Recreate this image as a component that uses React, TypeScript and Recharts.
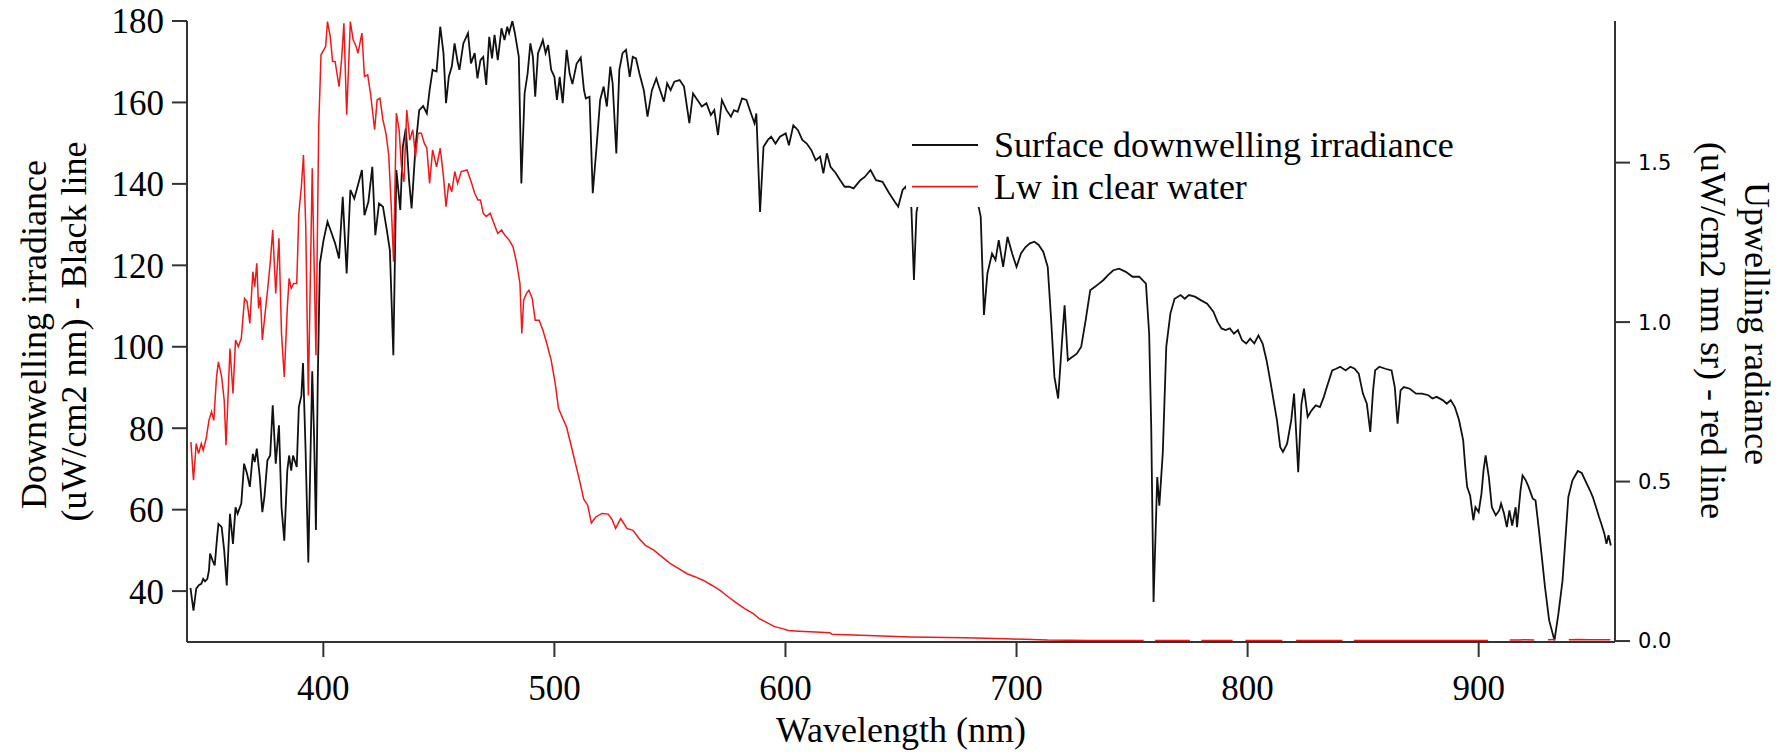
import { LineChart, Line, XAxis, YAxis, Legend } from 'recharts'

// Surface downwelling irradiance (black, left axis) - [wavelength nm, uW/cm2 nm]
const irradiance: Array<[number, number]> = [
  [342.5, 40.8], [343.8, 35.2], [345, 40.6], [346.2, 41.5], [347.2, 41.8], [348, 43], [348.8, 42.4], [349.8, 43],
  [350.5, 45.1], [351, 49.2], [352.1, 47.5], [353, 46.3], [354, 53], [354.6, 56.5], [356, 55.7], [357.1, 50],
  [358.2, 41.4], [359.6, 59], [360.9, 51.6], [362, 60.6], [362.9, 59], [364.5, 61.5], [365.7, 71.3], [367, 68.8],
  [368.2, 65.6], [369.5, 73.7], [370.3, 71.7], [371.2, 75], [372.5, 68], [373.6, 59.4], [374.5, 63.1], [375.8, 72.1],
  [377, 73.3], [378.1, 85.6], [379.4, 71.3], [380.8, 80.7], [381.9, 60.6], [383.1, 52.4], [384.4, 69.6], [385.2, 73.3],
  [386.1, 69.6], [386.9, 73.3], [388.5, 70.5], [389.4, 85.2], [390.5, 88], [391.2, 96], [392.3, 75], [393.5, 47],
  [394.5, 75], [395.2, 94], [396, 78], [396.8, 55], [397.6, 92], [398.5, 120.4], [400.1, 126.2], [401.8, 130.7],
  [403.4, 128.2], [405.1, 125.4], [406.8, 121.7], [408.4, 136.8], [410.1, 118], [411.7, 138.5], [413.4, 136.4], [415, 139.7],
  [416.7, 143.4], [417.8, 132.3], [419.5, 135.6], [421.2, 144.2], [422.5, 127.4], [424.1, 135.2], [425.8, 134.4], [427.5, 128.6],
  [428.8, 123.7], [430.3, 97.9], [431.6, 143.4], [433.3, 133.6], [434.4, 149.1], [435.7, 153.6], [437.1, 140.9], [438.2, 134],
  [439.9, 149.1], [441.5, 158.1], [443.2, 159.1], [444.8, 157.3], [446, 163], [447.3, 168], [449, 167.6], [450.6, 178.6],
  [452, 172.1], [453.1, 159.8], [454.3, 166.3], [455.6, 168.8], [456.8, 174.5], [458.1, 170], [458.9, 168], [460.6, 174.5],
  [462.6, 177], [463.9, 169.6], [465.5, 172.1], [466.7, 165.9], [468, 170.4], [469.2, 171.2], [470.5, 164.3], [471.8, 176.1],
  [473, 170.8], [474.1, 176.6], [475.5, 170.4], [477.1, 178.2], [478.4, 175.3], [479.6, 178.6], [480.4, 177], [481.8, 180],
  [482.9, 177], [484.6, 171.2], [485.7, 140.1], [487.1, 162.2], [488.4, 167.1], [489.6, 174.5], [490.7, 171.2], [491.7, 161.4],
  [492.9, 172.1], [494, 173.7], [495, 175.3], [496.2, 172.1], [497.3, 174.1], [498.6, 168], [500, 166.3], [501.1, 160.6],
  [502.3, 166.3], [503.6, 159.8], [505.3, 172.9], [506.6, 167.1], [507.8, 164.5], [509.6, 169.5], [511.4, 171], [512.8, 163],
  [513.6, 161], [515.2, 161.4], [516.6, 137.7], [518.3, 149.5], [519.8, 160.6], [521.3, 163.9], [522.7, 159], [524.2, 168.8],
  [525.2, 164.7], [526.8, 147.5], [528.1, 168], [529.5, 172.1], [531, 172.9], [532.6, 166.3], [533.9, 171.2], [535.3, 170.8],
  [536.8, 167.1], [538.7, 163], [540.3, 156.5], [542.2, 163], [544.1, 165.9], [545.5, 163.4], [547.4, 160.2], [548.8, 164.7],
  [550.3, 163], [551.9, 165.1], [554.2, 165.5], [556.1, 163.9], [558.4, 154.9], [560, 162.2], [561.9, 160.6], [563.8, 159],
  [565.8, 159.8], [567.7, 156.9], [569.2, 158.1], [570.8, 152], [572.5, 160.6], [574.5, 158.1], [576.4, 156.5], [577.7, 158.1],
  [579.3, 157.7], [581.2, 161], [583.1, 160.6], [585.1, 157.3], [586.6, 154.9], [587.4, 157.3], [589, 133.1], [590.5, 149.1],
  [592.4, 150.8], [593.8, 151.6], [595.7, 149.9], [597.6, 151.6], [600.1, 152.4], [601.5, 149.5], [603.4, 154.4], [605.4, 153.2],
  [607.3, 150.8], [609.2, 149.9], [611.2, 148.3], [613.1, 145.8], [615, 146.7], [616.4, 142.6], [617.9, 147.5], [619.5, 144.2],
  [621.8, 142.6], [623.7, 140.9], [625.6, 139.3], [627.6, 139.3], [629.5, 138.9], [632.4, 140.9], [634.3, 141.7], [636.8, 143.4],
  [639.2, 140.9], [642, 140.5], [644.9, 137.7], [647.3, 135.6], [648.8, 134.4], [650.7, 138.5], [652, 139.3], [653.5, 137],
  [654.5, 134], [655.6, 116.4], [656.7, 133], [658, 137], [662, 138], [666, 137], [670, 136.5], [674, 136],
  [678, 135.5], [682, 135], [683.6, 134.4], [684.5, 131.9], [685.9, 107.8], [687.4, 118], [689.4, 122.9], [690.9, 121.3],
  [692.3, 126.2], [694.2, 119.6], [696.1, 127], [698.1, 122.9], [700, 119.6], [701.9, 122.9], [703.9, 124.5], [705.8, 125.4],
  [707.7, 125.8], [709.6, 125], [711.6, 123.3], [713.5, 119.6], [714.9, 107.3], [716.4, 92.6], [718, 87.3], [719.9, 103.2],
  [720.8, 110.2], [722.2, 96.7], [724.1, 97.5], [726.1, 98.3], [728, 100], [729.9, 106.5], [731.9, 113.9], [733.8, 114.7],
  [735.7, 115.5], [737.6, 116.4], [739.6, 117.6], [741.9, 118.8], [744.4, 119.2], [747.3, 118.4], [750.2, 117.2], [753.1, 117.2],
  [756, 115.5], [757.4, 103.2], [758.3, 80], [759.3, 37.3], [760.9, 68], [761.8, 61], [763.3, 74], [764.8, 100],
  [766.6, 108.2], [768.4, 111.8], [771, 112.7], [772.8, 111.8], [774.6, 112.7], [777.2, 112.3], [779.9, 111.4], [782.5, 110.6],
  [785.2, 108.6], [787, 106.1], [788.7, 104.5], [790.5, 104.1], [792.3, 104.5], [794.1, 103.2], [795.8, 104.1], [797.6, 101.6],
  [799.4, 100.8], [801.1, 102], [802.9, 100.8], [804.7, 102.8], [806.5, 100.8], [808.2, 96.7], [810, 91], [810.9, 88],
  [812.7, 82], [814.1, 75.4], [815.3, 74.2], [817.1, 76.2], [818.9, 82], [820.1, 88.5], [821.2, 77], [821.9, 69.2],
  [823.3, 86], [824.4, 89.7], [826, 82.8], [827.7, 84.4], [829.5, 85.6], [831.3, 85.2], [833, 87.7], [834.3, 90.1],
  [836.6, 94.2], [838.3, 94.6], [840.1, 95.1], [842.4, 94.2], [844.5, 95.1], [846.3, 94.6], [848.1, 93.4], [849.9, 88.5],
  [851.6, 86], [853.1, 79.1], [854.3, 89.3], [855.2, 94.2], [857, 95.1], [859.6, 94.6], [862.3, 94.2], [863.7, 90.1],
  [864.9, 81.1], [866.2, 89.3], [867.6, 90.1], [870.2, 89.7], [872.9, 88.5], [875.5, 88.5], [878.2, 88.1], [880, 87.3],
  [881.8, 87.7], [884.4, 86.9], [886.2, 86], [887.9, 86.9], [889.7, 85.2], [891.5, 82], [893.3, 77], [894.2, 70.5],
  [895, 65.6], [896.3, 63.5], [897.7, 57.4], [898.6, 60.6], [900, 59.4], [901.2, 63.9], [902.1, 69.6], [903, 73.3],
  [904.4, 68], [905.7, 60.6], [907.4, 58.6], [908.9, 59.8], [909.7, 61.5], [911, 59], [912.2, 55.7], [913.3, 59.8],
  [914.5, 56.1], [916, 60.6], [916.6, 55.7], [918.1, 64.7], [919, 68.4], [920.4, 67.2], [921.6, 65.6], [923.4, 62.7],
  [924.6, 62.3], [926.1, 54.9], [927.5, 47.5], [928.7, 41], [930.5, 32.8], [932.8, 27.9], [934.5, 34.4], [936.3, 42.6],
  [937.6, 53.3], [938.8, 63.1], [940.6, 67.2], [942.9, 69.5], [944.6, 69], [946.4, 66.8], [948.2, 64.7], [949.4, 63.1],
  [950.8, 60.6], [952.1, 58.2], [953.1, 56.5], [954.4, 54.1], [955.3, 51.6], [956.2, 53.7], [957.2, 51.2],
]

// Lw in clear water (red, right axis) - [wavelength nm, uW/cm2 nm sr]; null = gap in the trace
const lwRadiance: Array<[number, number | null]> = [
  [342.7, 0.624], [343.8, 0.504], [345, 0.619], [346, 0.588], [347.2, 0.619], [348, 0.598], [349.3, 0.635], [350.5, 0.692],
  [351.6, 0.719], [352.6, 0.692], [353.8, 0.83], [354.6, 0.875], [356, 0.828], [357.1, 0.755], [357.9, 0.614], [359.6, 0.917],
  [360.9, 0.776], [362, 0.944], [363.2, 0.923], [364.5, 0.949], [365.9, 1.074], [367, 1.064], [368.2, 0.996], [369.5, 1.158],
  [370.3, 1.111], [371.2, 1.184], [372, 1.043], [372.8, 1.079], [373.6, 0.944], [374.5, 1.006], [375.8, 1.095], [377, 1.184],
  [378.1, 1.289], [379.4, 1.09], [380.8, 1.263], [381.9, 0.964], [383.1, 0.828], [384.4, 1.043], [385.2, 1.137], [386.1, 1.106],
  [387.2, 1.121], [388.5, 1.121], [389.4, 1.341], [390.5, 1.425], [391.4, 1.524], [392.4, 1.299], [393.5, 0.77], [395.2, 1.482],
  [396.8, 0.896], [398, 1.613], [399, 1.838], [401, 1.864], [401.8, 1.942], [403, 1.895], [404, 1.817], [405.1, 1.817],
  [406.8, 1.738], [407.9, 1.822], [408.9, 1.937], [410.1, 1.65], [411.7, 1.942], [412.9, 1.885], [414.2, 1.864], [415, 1.843],
  [416.7, 1.906], [417.8, 1.77], [419.2, 1.775], [420.5, 1.712], [422.2, 1.603], [423.3, 1.697], [424.5, 1.702], [425.8, 1.634],
  [427.1, 1.592], [428.3, 1.524], [429.4, 1.362], [430.4, 1.189], [431.6, 1.655], [432.8, 1.603], [433.8, 1.487], [434.9, 1.44],
  [436.1, 1.665], [437.4, 1.571], [438.7, 1.603], [439.9, 1.519], [441, 1.592], [442.4, 1.592], [443.7, 1.561], [444.8, 1.545],
  [446, 1.435], [447.3, 1.54], [449, 1.487], [450.6, 1.545], [452, 1.456], [453.1, 1.362], [454.3, 1.435], [455.6, 1.409],
  [456.9, 1.472], [458.1, 1.435], [459.7, 1.472], [462.2, 1.477], [464.2, 1.435], [465.5, 1.404], [466.9, 1.383], [468, 1.383],
  [469.2, 1.341], [470.5, 1.331], [472.2, 1.341], [473.8, 1.31], [475.5, 1.278], [477.1, 1.289], [478.5, 1.273], [480.4, 1.257],
  [482.1, 1.236], [483.7, 1.184], [485.1, 1.121], [485.9, 0.964], [486.7, 1.069], [487.9, 1.09], [489, 1.1], [490.4, 1.074],
  [491.7, 1.006], [493.4, 1.006], [495, 0.975], [496.7, 0.933], [498.6, 0.881], [500.3, 0.81], [501.8, 0.729], [503.5, 0.7],
  [505.3, 0.67], [507, 0.62], [509, 0.56], [511, 0.5], [512.7, 0.445], [514.4, 0.426], [516, 0.37], [517.9, 0.389],
  [520.6, 0.4], [523.3, 0.398], [525.1, 0.379], [526.5, 0.353], [528.7, 0.384], [531.4, 0.353], [534, 0.347], [536.7, 0.321],
  [539.4, 0.3], [543, 0.285], [546.6, 0.264], [550.2, 0.243], [553.8, 0.227], [557.4, 0.211], [561, 0.201], [564.5, 0.19],
  [568.1, 0.175], [571.7, 0.159], [575.3, 0.138], [578.9, 0.119], [582.5, 0.101], [586.1, 0.086], [588.7, 0.07], [591.4, 0.06],
  [595, 0.046], [598.6, 0.039], [601.3, 0.033], [605.8, 0.031], [613, 0.028], [619.2, 0.026], [620.1, 0.021], [632.7, 0.018],
  [654.2, 0.013], [677.5, 0.01], [695.5, 0.007], [713.4, 0.003], [731.3, 0.002], [735, 0.002], [740, 0.002], [745, 0.002],
  [750, 0.002], [755, 0.002], [757.5, null], [760, 0.002], [764, 0.002], [768, 0.002], [772, 0.002], [775, 0.002],
  [777.2, null], [780, 0.002], [785, 0.002], [790, 0.002], [793.5, 0.002], [795.9, null], [799, 0.002], [805, 0.002],
  [810, 0.002], [815, 0.002], [818.3, null], [821, 0.002], [826, 0.002], [832, 0.002], [838, 0.002], [841, 0.002],
  [842.8, null], [846, 0.002], [852, 0.002], [858, 0.002], [864, 0.002], [870, 0.002], [876, 0.002], [882, 0.002],
  [888, 0.002], [894, 0.002], [900, 0.002], [904, 0.002], [906.5, null], [910, null], [913.4, 0.003], [917, 0.003],
  [920, 0.004], [924, 0.003], [927.2, null], [930, 0.004], [933, 0.005], [935.9, null], [939, 0.004], [943, 0.005],
  [948, 0.004], [953, 0.004], [957, 0.004],
]

const wavelengthTicks = [400, 500, 600, 700, 800, 900]
const irradianceTicks = [40, 60, 80, 100, 120, 140, 160, 180]
const radianceTicks = [0, 0.5, 1, 1.5]
const legendOrder = ['Surface downwelling irradiance', 'Lw in clear water']

const irrData = irradiance.map(([nm, v]) => ({ nm, irr: v }))
const lwData = lwRadiance.map(([nm, v]) => ({ nm, lw: v }))

const SERIF = 'Liberation Serif, Times New Roman, serif'
const titleStyle = { fontFamily: SERIF, fontSize: 36, fill: '#000' }

function LeftTitle(props: any) {
  const vb = props.viewBox || { x: 0, y: 21, width: 187, height: 621 }
  const cy = vb.y + vb.height / 2
  return (
    <g>
      <text transform={`translate(${vb.x + 34}, ${cy + 3}) rotate(-90)`} textAnchor="middle" dominantBaseline="central" style={titleStyle}>
        Downwelling irradiance
      </text>
      <text transform={`translate(${vb.x + 74}, ${cy}) rotate(-90)`} textAnchor="middle" dominantBaseline="central" style={titleStyle}>
        (uW/cm2 nm) - Black line
      </text>
    </g>
  )
}

function RightTitle(props: any) {
  const vb = props.viewBox || { x: 1615, y: 21, width: 177, height: 621 }
  const cy = vb.y + vb.height / 2
  return (
    <g>
      <text transform={`translate(${vb.x + 142}, ${cy - 8}) rotate(90)`} textAnchor="middle" dominantBaseline="central" style={titleStyle}>
        Upwelling radiance
      </text>
      <text transform={`translate(${vb.x + 98}, ${cy - 1}) rotate(90)`} textAnchor="middle" dominantBaseline="central" style={titleStyle}>
        (uW/cm2 nm sr) - red line
      </text>
    </g>
  )
}

function BottomTitle(props: any) {
  const vb = props.viewBox || { x: 187, y: 642, width: 1428, height: 111 }
  return (
    <text x={vb.x + vb.width / 2} y={vb.y + 100} textAnchor="middle" style={titleStyle}>
      Wavelength (nm)
    </text>
  )
}

// legend box with white fill: it hides the trace behind it, as in the original
function LegendBox({ payload }: any) {
  const items = [...(payload || [])].sort(
    (a: any, b: any) => legendOrder.indexOf(a.value) - legendOrder.indexOf(b.value)
  )
  return (
    <svg width={560} height={89} style={{ display: 'block', background: '#fff' }}>
      {items.map((p: any, i: number) => {
        const y = 27 + i * 41.7
        return (
          <g key={p.value}>
            <line x1={6} x2={72} y1={y} y2={y} stroke={p.color} strokeWidth={1.8} />
            <text x={88} y={y + 12} style={titleStyle}>{p.value}</text>
          </g>
        )
      })}
    </svg>
  )
}

export default function App() {
  const axisLine = { stroke: '#333', strokeWidth: 2 }
  return (
    <div style={{ position: 'absolute', left: 0, top: 0, width: 1792, height: 753, background: '#fff' }}>
      <LineChart width={1792} height={753} margin={{ top: 21, right: 0, bottom: 0, left: 0 }}>
        <XAxis
          dataKey="nm"
          type="number"
          domain={[341, 959]}
          allowDataOverflow
          ticks={wavelengthTicks}
          height={111}
          tickSize={15}
          tickMargin={18}
          axisLine={axisLine}
          tickLine={axisLine}
          tick={{ fill: '#000', fontSize: 35, fontFamily: SERIF }}
          label={{ content: BottomTitle }}
        />
        <YAxis
          yAxisId="left"
          orientation="left"
          domain={[27.5, 180]}
          allowDataOverflow
          ticks={irradianceTicks}
          width={187}
          tickSize={15}
          tickMargin={8}
          axisLine={axisLine}
          tickLine={axisLine}
          tick={{ fill: '#000', fontSize: 35, fontFamily: SERIF }}
          label={{ content: LeftTitle }}
        />
        <YAxis
          yAxisId="right"
          orientation="right"
          domain={[-0.003, 1.944]}
          allowDataOverflow
          ticks={radianceTicks}
          tickFormatter={(v: number) => v.toFixed(1)}
          width={177}
          tickSize={15}
          tickMargin={8}
          axisLine={axisLine}
          tickLine={axisLine}
          tick={{ fill: '#000', fontSize: 21, fontFamily: 'DejaVu Sans, sans-serif' }}
          label={{ content: RightTitle }}
        />
        <Legend
          layout="horizontal"
          verticalAlign="middle"
          align="center"
          width={560}
          height={89}
          wrapperStyle={{ left: 906, top: 118, width: 560, height: 89 }}
          content={LegendBox}
        />
        <Line
          data={irrData}
          dataKey="irr"
          name="Surface downwelling irradiance"
          yAxisId="left"
          type="linear"
          stroke="#111"
          strokeWidth={1.8}
          dot={false}
          isAnimationActive={false}
        />
        <Line
          data={lwData}
          dataKey="lw"
          name="Lw in clear water"
          yAxisId="right"
          type="linear"
          stroke="#f01818"
          strokeWidth={1.5}
          dot={false}
          isAnimationActive={false}
        />
      </LineChart>
    </div>
  )
}
